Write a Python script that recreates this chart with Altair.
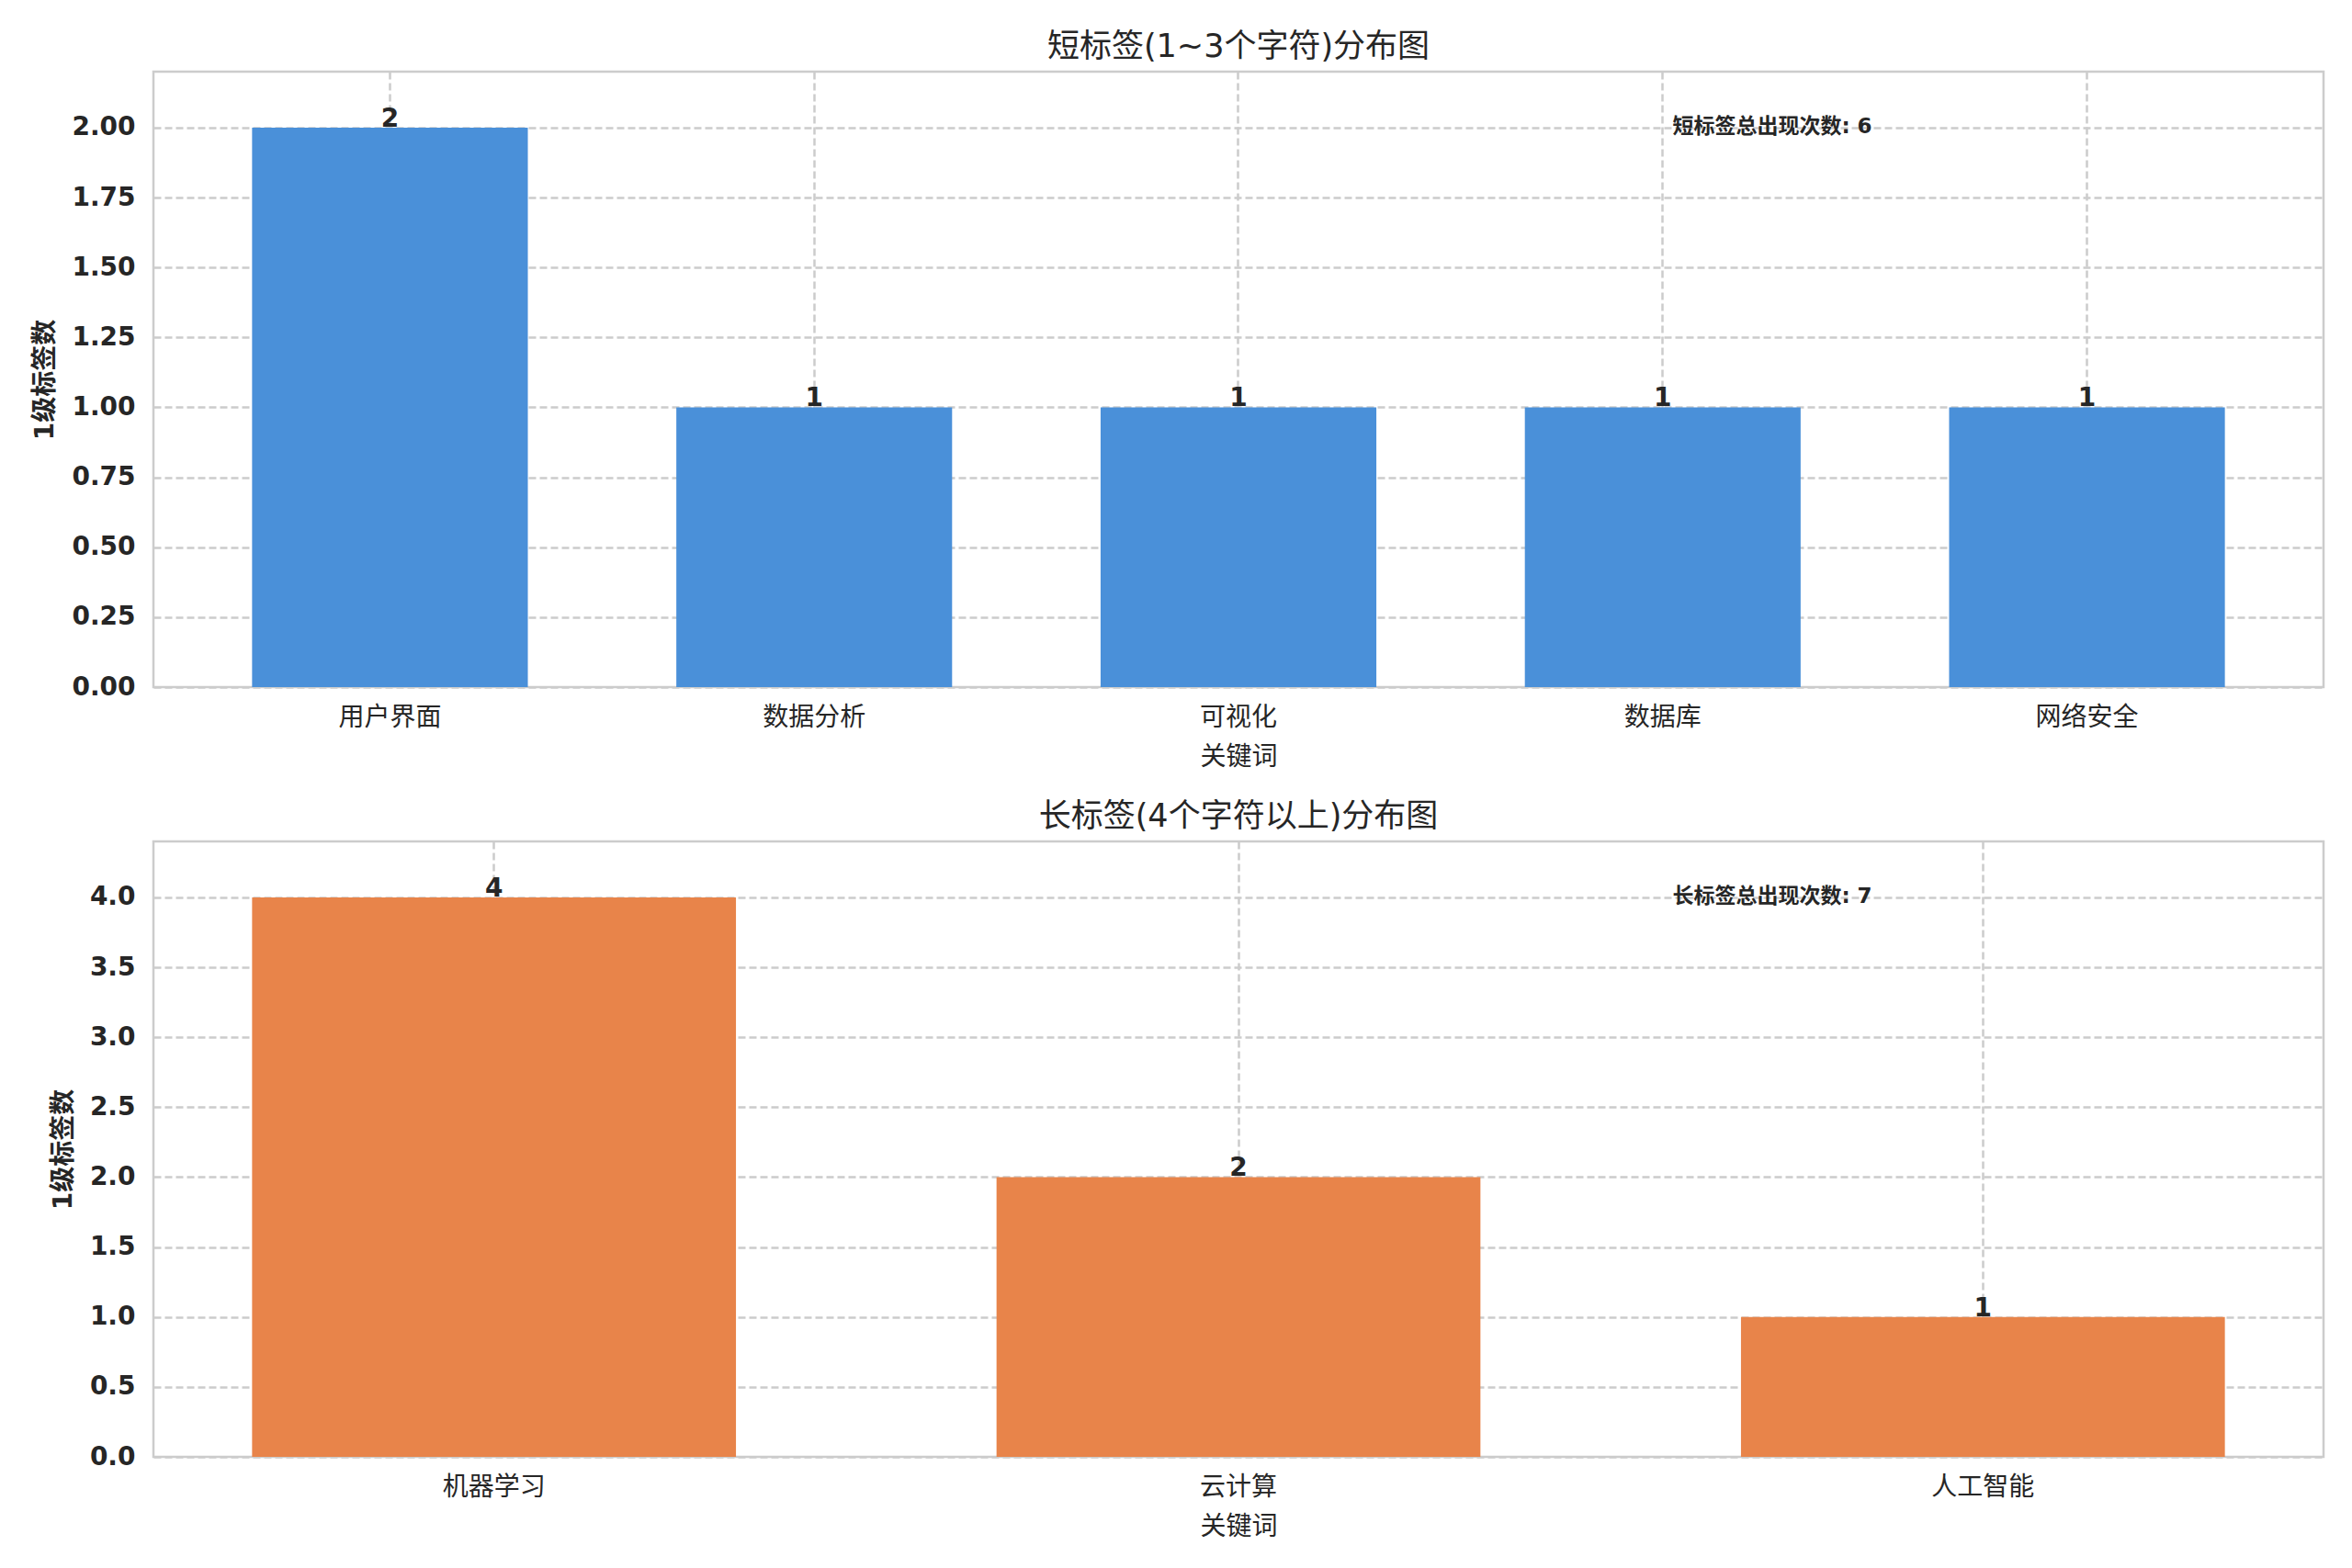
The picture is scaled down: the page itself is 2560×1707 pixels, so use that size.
import altair as alt
import pandas as pd

# ---- data ----
short_labels = ["用户界面", "数据分析", "可视化", "数据库", "网络安全"]
short_counts = [2, 1, 1, 1, 1]
long_labels = ["机器学习", "云计算", "人工智能"]
long_counts = [4, 2, 1]

title_short = "短标签(1~3个字符)分布图"
title_long = "长标签(4个字符以上)分布图"
y_title = "1级标签数"
x_title = "关键词"
note_short = "短标签总出现次数: 6"
note_long = "长标签总出现次数: 7"

y_ticks_short = [0, 0.25, 0.5, 0.75, 1.0, 1.25, 1.5, 1.75, 2.0]
y_ticks_long = [0, 0.5, 1.0, 1.5, 2.0, 2.5, 3.0, 3.5, 4.0]

BLUE = "#4A90D9"
ORANGE = "#E8844A"
TXT = "#262626"
GRID = "#cccccc"
FONT = "'DejaVu Sans', 'Noto Sans CJK SC', sans-serif"

W = 2362
H = 670


def panel(labels, counts, color, title, note, yticks, ymax, yfmt, pad_outer):
    df = pd.DataFrame({"label": labels, "count": counts})
    x = alt.X(
        "label:N",
        sort=labels,
        title=x_title,
        scale=alt.Scale(paddingInner=0.35, paddingOuter=pad_outer),
        axis=alt.Axis(
            labelAngle=0,
            grid=True,
            bandPosition=0.5,
            ticks=False,
            tickSize=0,
            domain=False,
            labelPadding=19,
            titlePadding=15,
            labelFontSize=28,
            titleFontSize=28,
            labelFont=FONT,
            titleFont=FONT,
            labelColor=TXT,
            titleColor=TXT,
            titleFontWeight="normal",
            gridColor=GRID,
            gridDash=[8, 4],
            gridWidth=2.5,
        ),
    )
    y = alt.Y(
        "count:Q",
        title=y_title,
        scale=alt.Scale(domain=[0, ymax], nice=False),
        axis=alt.Axis(
            values=yticks,
            format=yfmt,
            ticks=False,
            tickSize=0,
            domain=False,
            labelPadding=20,
            titlePadding=14,
            labelFontSize=28,
            labelFontWeight="bold",
            titleFontSize=28,
            titleFontWeight="bold",
            labelFont=FONT,
            titleFont=FONT,
            labelColor=TXT,
            titleColor=TXT,
            gridColor=GRID,
            gridDash=[8, 4],
            gridWidth=2.5,
        ),
    )
    base = alt.Chart(df)
    bars = base.mark_bar(color=color).encode(x=x, y=y)
    vals = base.mark_text(
        baseline="alphabetic", dy=-1, fontSize=28, fontWeight="bold",
        color=TXT, font=FONT,
    ).encode(x=alt.X("label:N", sort=labels), y="count:Q", text="count:Q")
    ann = alt.Chart(pd.DataFrame({"t": [note]})).mark_text(
        align="left", baseline="middle", fontSize=23, fontWeight="bold",
        color=TXT, font=FONT,
    ).encode(x=alt.value(0.7 * W), y=alt.value(0.09 * H), text="t:N")
    return alt.layer(bars, vals, ann).properties(
        width=W, height=H,
        title=alt.TitleParams(title, fontSize=35, font=FONT, color=TXT,
                              fontWeight="normal", offset=9, anchor="middle"),
    )


top = panel(short_labels, short_counts, BLUE, title_short, note_short,
            y_ticks_short, max(short_counts) * 1.1, ".2f", 0.2325)
bottom = panel(long_labels, long_counts, ORANGE, title_long, note_long,
               y_ticks_long, max(long_counts) * 1.1, ".1f", 0.1325)

chart = alt.vconcat(top, bottom, spacing=30).properties(
    padding={"left": 26, "top": 24, "right": 5, "bottom": 5},
    background="white",
).configure_view(stroke=GRID, strokeWidth=2.5)

chart.save("out.html", embed_options={"renderer": "svg", "actions": False})
